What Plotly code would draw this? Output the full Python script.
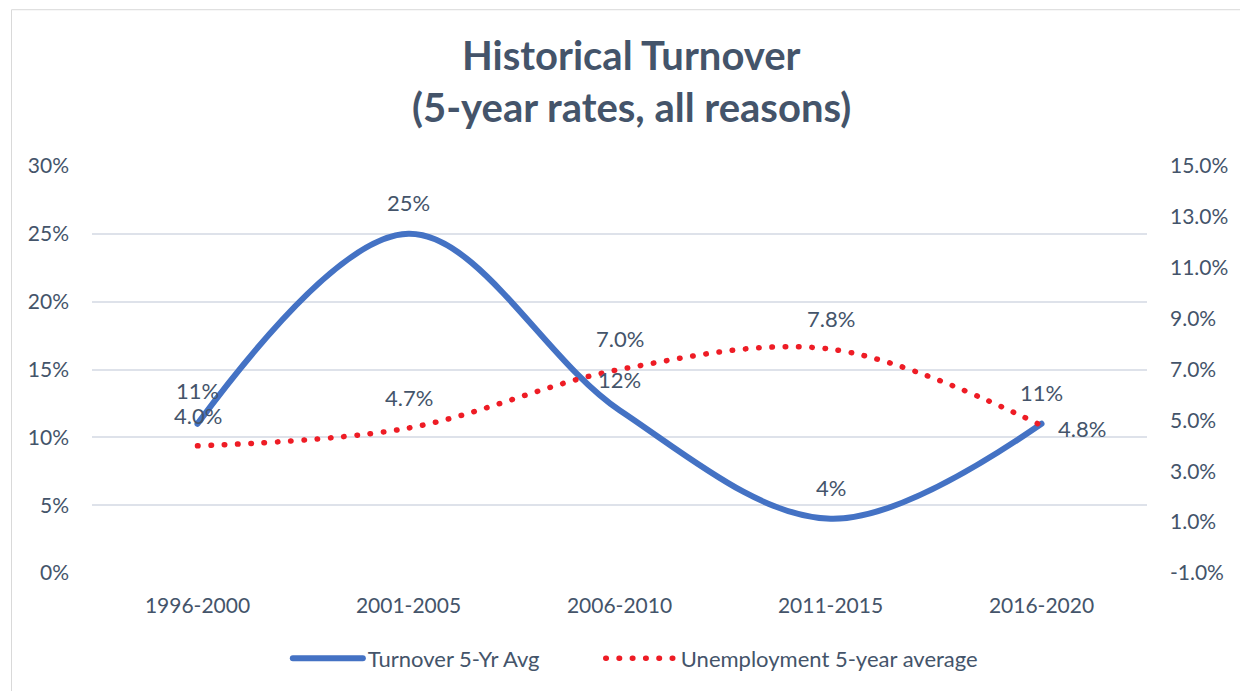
import plotly.graph_objects as go

categories = ["1996-2000", "2001-2005", "2006-2010", "2011-2015", "2016-2020"]
turnover = [11, 25, 12, 4, 11]
unemployment = [4.0, 4.7, 7.0, 7.8, 4.8]
left_ticks = [0, 5, 10, 15, 20, 25, 30]
right_ticks = [-1, 1, 3, 5, 7, 9, 11, 13, 15]
series_names = ["Turnover 5-Yr Avg", "Unemployment 5-year average"]

TXT = "#44546A"
FONT = "Lato"
GAP = "\u00a0" * 10

fig = go.Figure()
fig.add_trace(go.Scatter(
    x=categories, y=turnover, name=series_names[0] + GAP, mode="lines",
    line=dict(color="#4472C4", width=6, shape="spline", smoothing=1.0),
    yaxis="y"))
fig.add_trace(go.Scatter(
    x=categories, y=unemployment, name=series_names[1], mode="lines",
    line=dict(color="#EE1C25", width=5.5, shape="spline", smoothing=1.0, dash="0.5px,12.8px"),
    yaxis="y2"))

annotations = []
for i, (c, v) in enumerate(zip(categories, turnover)):
    annotations.append(dict(x=c, y=v, xref="x", yref="y", text=f"{v:.0f}%",
                            showarrow=False, yshift=33 if i == 0 else 31,
                            font=dict(size=22, color=TXT, family=FONT)))
for i, (c, v) in enumerate(zip(categories, unemployment)):
    last = i == len(categories) - 1
    annotations.append(dict(x=c, y=v, xref="x", yref="y2", text=f"{v:.1f}%",
                            showarrow=False, yshift=-3 if last else (30 if i == 0 else 31),
                            xshift=40 if last else 0,
                            font=dict(size=22, color=TXT, family=FONT)))

annotations.append(dict(x=0.511, y=1.272, xref="paper", yref="paper", text="<b>Historical Turnover</b>",
                        showarrow=False, font=dict(size=40, color=TXT, family=FONT), yanchor="middle"))
annotations.append(dict(x=0.511, y=1.146, xref="paper", yref="paper", text="<b>(5-year rates, all reasons)</b>",
                        showarrow=False, font=dict(size=40, color=TXT, family=FONT), yanchor="middle"))

fig.update_layout(
    width=1240, height=691,
    margin=dict(l=92, r=87, t=166, b=116),
    paper_bgcolor="white", plot_bgcolor="white",
    font=dict(family=FONT, color=TXT, size=21),
    showlegend=True,
    legend=dict(orientation="h", x=0.515, xanchor="center", y=-0.21, yanchor="middle",
                font=dict(size=22, color=TXT, family=FONT), itemwidth=70, traceorder="normal"),
    xaxis=dict(type="category", range=[-0.5, 4.5], showgrid=False, showline=False, zeroline=False,
               ticks="", tickfont=dict(size=21, color=TXT), ticklabelstandoff=18),
    yaxis=dict(range=[0, 30], tickmode="array", tickvals=left_ticks,
               ticktext=[f"{v}%" for v in left_ticks], showgrid=True,
               gridcolor="#DEE2EA", gridwidth=1.5, zeroline=False, showline=False, ticks="",
               tickfont=dict(size=21, color=TXT), ticklabelstandoff=22),
    yaxis2=dict(range=[-1, 15], tickmode="array", tickvals=right_ticks,
                ticktext=[f"{v:.1f}%" for v in right_ticks],
                overlaying="y", side="right", showgrid=False, zeroline=False, showline=False,
                ticks="", tickfont=dict(size=21, color=TXT), ticklabelstandoff=22),
    annotations=annotations,
    shapes=[dict(type="rect", xref="paper", yref="paper", x0=-0.0763, x1=1.2, y0=-0.3, y1=1.384,
                 line=dict(color="#D9D9D9", width=1), fillcolor="rgba(0,0,0,0)", layer="below")],
)

post_script = """
document.body.style.margin='0';
var gd = document.getElementById('{plot_id}');
function rc(){ gd.querySelectorAll('path.js-line').forEach(function(p){ p.style.strokeLinecap='round'; }); }
rc(); gd.on('plotly_afterplot', rc);
"""
fig.write_html("out.html", post_script=post_script, config={"displayModeBar": False})
